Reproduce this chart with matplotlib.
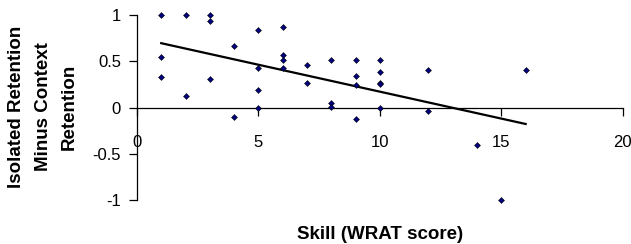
import matplotlib
matplotlib.use("Agg")
import matplotlib.pyplot as plt
import numpy as np

plt.rcParams['font.family'] = ['Liberation Sans', 'DejaVu Sans']

# Skill (WRAT score) vs. isolated minus context retention
skill = [1, 1, 1, 2, 2, 3, 3, 3, 4, 4,
         5, 5, 5, 5, 6, 6, 6, 6, 7, 7,
         8, 8, 8, 9, 9, 9, 9, 10, 10, 10,
         10, 10, 12, 12, 14, 15, 16]
retention = [1.0, 0.55, 0.33, 1.0, 0.12, 1.0, 0.93, 0.31, 0.67, -0.1,
             0.84, 0.43, 0.19, 0.0, 0.865, 0.57, 0.51, 0.43, 0.46, 0.27,
             0.51, 0.05, 0.01, 0.51, 0.34, 0.245, -0.12, 0.51, 0.385, 0.26,
             0.25, 0.0, 0.41, -0.04, -0.41, -1.0, 0.41]

x_ticks = [0, 5, 10, 15, 20]
y_ticks = [-1, -0.5, 0, 0.5, 1]

fig = plt.figure(figsize=(6.31, 2.44), dpi=100)
ax = fig.add_axes([0.217, 0.180, 0.770, 0.7585])

ax.plot(skill, retention, linestyle='none', marker='D', markersize=3,
        markerfacecolor='#000080', markeredgecolor='black', markeredgewidth=0.4,
        clip_on=False, zorder=3)

# linear trend line over the data range
slope, intercept = np.polyfit(skill, retention, 1)
xs = np.array([min(skill), max(skill)])
ax.plot(xs, slope * xs + intercept, color='black', linewidth=1.6)

ax.set_xlim(0, 20)
ax.set_ylim(-1, 1)
ax.set_xticks(x_ticks)
ax.set_yticks(y_ticks)
ax.set_yticklabels(['-1', '-0.5', '0', '0.5', '1'])

ax.spines['top'].set_visible(False)
ax.spines['right'].set_visible(False)
ax.spines['bottom'].set_position(('data', 0))
for s in ('left', 'bottom'):
    ax.spines[s].set_linewidth(0.9)

ax.tick_params(axis='both', direction='out', length=5.5, width=0.9, labelsize=12)
ax.tick_params(axis='x', pad=14)
ax.tick_params(axis='y', pad=6)

fig.text(43 / 631, 1 - 107 / 244, 'Isolated Retention\nMinus Context\nRetention',
         rotation=90, ha='center', va='center', multialignment='center',
         fontsize=13.5, fontweight='bold', linespacing=1.7)
fig.text(0.602, 0.037, 'Skill (WRAT score)', ha='center', va='center',
         fontsize=13.5, fontweight='bold')

fig.savefig('out.png', dpi=100)
